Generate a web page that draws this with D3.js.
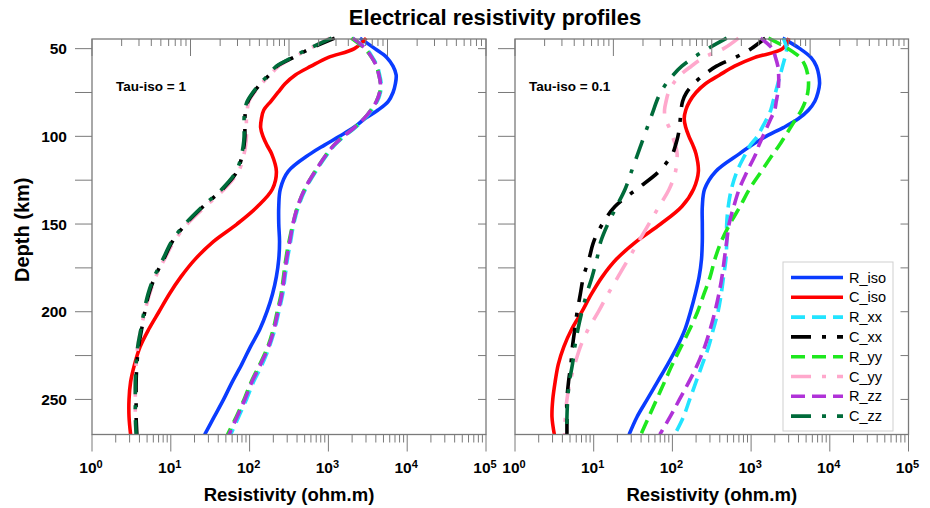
<!DOCTYPE html>
<html>
<head>
<meta charset="utf-8">
<script src="https://cdn.jsdelivr.net/npm/d3@7/dist/d3.min.js"></script>
<style>
  body { margin: 0; background: #fff; }
  svg { font-family: "Liberation Sans", Arial, sans-serif; }
</style>
</head>
<body>
<div id="chart"></div>
<script>
const depth = [44, 50, 55, 60, 65, 70, 75, 80, 85, 90, 95, 100, 105, 110, 120,
               130, 140, 150, 160, 170, 180, 190, 200, 210, 220, 230, 240, 250, 260, 270];

// all values are log10 of resistivity (ohm.m)
// --- Tau-iso = 1 ---
const L_R_iso = [3.40, 3.59, 3.74, 3.82, 3.86, 3.85, 3.82, 3.76, 3.63, 3.46, 3.32, 3.14, 2.95, 2.77, 2.49,
                 2.39, 2.37, 2.37, 2.38, 2.37, 2.34, 2.29, 2.22, 2.13, 2.01, 1.90, 1.78, 1.67, 1.55, 1.43];
const L_C_iso = [3.48, 3.33, 3.00, 2.78, 2.58, 2.45, 2.36, 2.27, 2.18, 2.15, 2.14, 2.17, 2.22, 2.28, 2.34,
                 2.29, 2.10, 1.84, 1.54, 1.31, 1.13, 0.98, 0.85, 0.72, 0.61, 0.54, 0.49, 0.47, 0.47, 0.49];
const L_R_xx = [3.30, 3.48, 3.56, 3.62, 3.65, 3.67, 3.66, 3.62, 3.55, 3.46, 3.34, 3.20, 3.08, 2.99, 2.84,
                2.71, 2.62, 2.56, 2.52, 2.48, 2.45, 2.42, 2.37, 2.32, 2.25, 2.16, 2.05, 1.96, 1.86, 1.76];
const L_C_xx = [3.08, 2.77, 2.56, 2.35, 2.25, 2.14, 2.05, 1.98, 1.95, 1.94, 1.94, 1.94, 1.93, 1.91, 1.84,
                1.66, 1.41, 1.19, 1.02, 0.91, 0.80, 0.72, 0.67, 0.63, 0.59, 0.57, 0.56, 0.56, 0.56, 0.57];
const L_R_yy = [3.29, 3.46, 3.55, 3.61, 3.64, 3.66, 3.65, 3.61, 3.54, 3.45, 3.33, 3.19, 3.07, 2.98, 2.83,
                2.70, 2.61, 2.55, 2.50, 2.46, 2.43, 2.40, 2.35, 2.30, 2.23, 2.13, 2.02, 1.93, 1.83, 1.72];
const L_C_yy = [3.02, 2.76, 2.56, 2.37, 2.26, 2.15, 2.06, 1.99, 1.97, 1.96, 1.96, 1.96, 1.95, 1.93, 1.86,
                1.68, 1.44, 1.21, 1.04, 0.92, 0.81, 0.73, 0.67, 0.62, 0.58, 0.56, 0.55, 0.55, 0.55, 0.56];
const L_R_zz = [3.31, 3.47, 3.55, 3.61, 3.64, 3.66, 3.65, 3.61, 3.54, 3.45, 3.33, 3.19, 3.07, 2.98, 2.83,
                2.70, 2.61, 2.55, 2.51, 2.47, 2.44, 2.41, 2.36, 2.31, 2.24, 2.14, 2.03, 1.94, 1.84, 1.74];
const L_C_zz = [3.04, 2.75, 2.54, 2.34, 2.24, 2.13, 2.04, 1.97, 1.94, 1.93, 1.93, 1.93, 1.92, 1.90, 1.83,
                1.65, 1.40, 1.18, 1.01, 0.90, 0.79, 0.71, 0.66, 0.62, 0.58, 0.56, 0.55, 0.55, 0.55, 0.56];

// --- Tau-iso = 0.1 ---
const R_R_iso = [3.40, 3.62, 3.76, 3.83, 3.86, 3.87, 3.85, 3.81, 3.73, 3.60, 3.41, 3.19, 3.01, 2.85, 2.55,
                 2.41, 2.38, 2.38, 2.38, 2.37, 2.34, 2.29, 2.23, 2.16, 2.06, 1.94, 1.81, 1.68, 1.55, 1.45];
const R_C_iso = [3.48, 3.40, 3.05, 2.79, 2.60, 2.42, 2.30, 2.22, 2.17, 2.15, 2.17, 2.21, 2.26, 2.30, 2.33,
                 2.27, 2.12, 1.85, 1.54, 1.29, 1.11, 0.97, 0.85, 0.72, 0.62, 0.55, 0.51, 0.48, 0.47, 0.50];
const R_R_xx = [3.41, 3.45, 3.43, 3.40, 3.37, 3.34, 3.31, 3.28, 3.25, 3.20, 3.14, 3.08, 2.99, 2.93, 2.82,
                2.75, 2.71, 2.69, 2.69, 2.68, 2.65, 2.62, 2.58, 2.52, 2.46, 2.38, 2.30, 2.22, 2.14, 2.03];
const R_C_xx = [3.18, 3.00, 2.80, 2.56, 2.40, 2.27, 2.18, 2.13, 2.11, 2.10, 2.09, 2.07, 2.04, 2.00, 1.83,
                1.55, 1.27, 1.11, 1.00, 0.94, 0.87, 0.83, 0.79, 0.76, 0.73, 0.71, 0.68, 0.66, 0.66, 0.66];
const R_R_yy = [3.22, 3.47, 3.62, 3.69, 3.72, 3.73, 3.72, 3.69, 3.64, 3.57, 3.50, 3.43, 3.36, 3.28, 3.13,
                2.98, 2.86, 2.73, 2.62, 2.54, 2.48, 2.40, 2.32, 2.22, 2.11, 2.00, 1.90, 1.80, 1.70, 1.60];
const R_C_yy = [2.84, 2.65, 2.40, 2.24, 2.10, 2.01, 1.95, 1.92, 1.90, 1.91, 1.96, 2.00, 2.04, 2.06, 2.04,
                1.96, 1.83, 1.70, 1.57, 1.44, 1.31, 1.18, 1.06, 0.93, 0.83, 0.76, 0.70, 0.66, 0.64, 0.63];
const R_R_zz = [3.12, 3.27, 3.31, 3.34, 3.35, 3.35, 3.34, 3.32, 3.30, 3.25, 3.20, 3.15, 3.10, 3.06, 2.95,
                2.85, 2.78, 2.72, 2.69, 2.66, 2.63, 2.59, 2.54, 2.48, 2.41, 2.32, 2.21, 2.09, 1.97, 1.84];
const R_C_zz = [2.69, 2.45, 2.27, 2.12, 2.01, 1.92, 1.85, 1.80, 1.76, 1.72, 1.68, 1.64, 1.60, 1.56, 1.48,
                1.40, 1.29, 1.18, 1.09, 1.04, 0.98, 0.91, 0.85, 0.80, 0.76, 0.73, 0.69, 0.67, 0.66, 0.66];

const seriesNames = ["R_iso", "C_iso", "R_xx", "C_xx", "R_yy", "C_yy", "R_zz", "C_zz"];
const depthTicks = [50, 100, 150, 200, 250];

// styling
const colors = {
  R_iso: "#0a3cff", C_iso: "#ff0000", R_xx: "#22e4ff", C_xx: "#000000",
  R_yy: "#1ee81e", C_yy: "#ffa8cc", R_zz: "#b032d8", C_zz: "#006b3a"
};
const DASH = "14,7", DASHDOT = "20,11,4,11";
const dashes = {
  R_iso: null, C_iso: null, R_xx: DASH, C_xx: DASHDOT,
  R_yy: DASH, C_yy: DASHDOT, R_zz: DASH, C_zz: DASHDOT
};
// order drawn (first at the bottom)
const drawOrder = ["R_iso", "C_iso", "C_yy", "C_xx", "C_zz", "R_xx", "R_yy", "R_zz"];

const W = 930, H = 508;
const TOP = 39, BOTTOM = 434.5;
const AXIS = "#7a7a7a";

const svg = d3.select("#chart").append("svg").attr("width", W).attr("height", H);

svg.append("text")
   .attr("x", 495).attr("y", 25)
   .attr("text-anchor", "middle")
   .style("font-size", "22px").style("font-weight", "bold")
   .text("Electrical resistivity profiles");

const y = d3.scaleLinear().domain([44.5, 270]).range([TOP, BOTTOM]);

const panels = [
  { x0: 92, x1: 486, tau: "Tau-iso = 1", yLabels: true, legend: false,
    data: { R_iso: L_R_iso, C_iso: L_C_iso, R_xx: L_R_xx, C_xx: L_C_xx,
            R_yy: L_R_yy, C_yy: L_C_yy, R_zz: L_R_zz, C_zz: L_C_zz } },
  { x0: 515, x1: 908.5, tau: "Tau-iso = 0.1", yLabels: false, legend: true,
    data: { R_iso: R_R_iso, C_iso: R_C_iso, R_xx: R_R_xx, C_xx: R_C_xx,
            R_yy: R_R_yy, C_yy: R_C_yy, R_zz: R_R_zz, C_zz: R_C_zz } }
];

const isMajor = v => Math.abs(Math.log10(v) - Math.round(Math.log10(v))) < 1e-6;

panels.forEach((p, pi) => {
  const x = d3.scaleLog().domain([1, 1e5]).range([p.x0, p.x1]);
  // the top axis of the original only spans four decades
  const xTop = d3.scaleLog().domain([1, 1e4]).range([p.x0, p.x1]);
  const g = svg.append("g");

  const clipId = "clip" + pi;
  svg.append("clipPath").attr("id", clipId).append("rect")
     .attr("x", p.x0).attr("y", TOP - 3).attr("width", p.x1 - p.x0).attr("height", BOTTOM - TOP + 3);

  // curves
  const line = d3.line()
    .x(d => x(Math.pow(10, d[1])))
    .y(d => y(d[0]))
    .curve(d3.curveCatmullRom.alpha(0.5));

  const curves = g.append("g").attr("clip-path", `url(#${clipId})`);
  drawOrder.forEach(name => {
    const pts = depth.map((dd, i) => [dd, p.data[name][i]]);
    curves.append("path")
      .attr("d", line(pts))
      .attr("fill", "none")
      .attr("stroke", colors[name])
      .attr("stroke-width", 3.6)
      .attr("stroke-linejoin", "round")
      .attr("stroke-dasharray", dashes[name]);
  });

  // frame
  g.append("rect")
   .attr("x", p.x0).attr("y", TOP)
   .attr("width", p.x1 - p.x0).attr("height", BOTTOM - TOP)
   .attr("fill", "none").attr("stroke", AXIS).attr("stroke-width", 1.3);

  // bottom ticks (outward)
  x.ticks().forEach(v => {
    const xx = x(v), len = isMajor(v) ? 17 : 8;
    g.append("line").attr("x1", xx).attr("x2", xx).attr("y1", BOTTOM).attr("y2", BOTTOM + len)
     .attr("stroke", AXIS).attr("stroke-width", 1);
  });
  // top ticks (inward)
  xTop.ticks().forEach(v => {
    const xx = xTop(v), len = isMajor(v) ? 17 : 7;
    g.append("line").attr("x1", xx).attr("x2", xx).attr("y1", TOP).attr("y2", TOP + len)
     .attr("stroke", AXIS).attr("stroke-width", 1);
  });
  // depth ticks every 25 km: outward left, inward right
  d3.range(50, 271, 25).forEach(d => {
    const yy = y(d);
    g.append("line").attr("x1", p.x0 - 17).attr("x2", p.x0).attr("y1", yy).attr("y2", yy)
     .attr("stroke", AXIS).attr("stroke-width", 1);
    g.append("line").attr("x1", p.x1 - 8).attr("x2", p.x1).attr("y1", yy).attr("y2", yy)
     .attr("stroke", AXIS).attr("stroke-width", 1);
  });

  // decade labels
  x.ticks().filter(isMajor).forEach(v => {
    const t = g.append("text")
      .attr("x", x(v) - 1).attr("y", 472.5)
      .attr("text-anchor", "middle")
      .style("font-size", "15.5px").style("font-weight", "bold");
    t.append("tspan").text("10");
    t.append("tspan").attr("dy", -4.5).style("font-size", "11px").text(Math.round(Math.log10(v)));
  });

  g.append("text")
   .attr("x", (p.x0 + p.x1) / 2).attr("y", 500.5)
   .attr("text-anchor", "middle")
   .style("font-size", "18.5px").style("font-weight", "bold")
   .text("Resistivity (ohm.m)");

  if (p.yLabels) {
    depthTicks.forEach(d => {
      g.append("text")
       .attr("x", p.x0 - 25).attr("y", y(d)).attr("dy", "0.36em")
       .attr("text-anchor", "end")
       .style("font-size", "15.5px").style("font-weight", "bold")
       .text(d);
    });
    g.append("text")
     .attr("transform", `translate(29, ${(TOP + BOTTOM) / 2 - 7}) rotate(-90)`)
     .attr("text-anchor", "middle")
     .style("font-size", "20px").style("font-weight", "bold")
     .text("Depth (km)");
  }

  g.append("text")
   .attr("x", p.x0 + (pi === 0 ? 24 : 14)).attr("y", 86).attr("dy", "0.35em")
   .style("font-size", "13.5px").style("font-weight", "bold")
   .text(p.tau);

  if (p.legend) {
    const lg = g.append("g");
    lg.append("rect")
      .attr("x", 783).attr("y", 262).attr("width", 110).attr("height", 169)
      .attr("fill", "#fff").attr("stroke", "#cfcfcf").attr("stroke-width", 1);
    seriesNames.forEach((name, i) => {
      const yy = 277.5 + i * 19.8;
      lg.append("line")
        .attr("x1", 791).attr("x2", 843).attr("y1", yy).attr("y2", yy)
        .attr("stroke", colors[name]).attr("stroke-width", 3.6)
        .attr("stroke-dasharray", dashes[name]);
      lg.append("text")
        .attr("x", 849).attr("y", yy).attr("dy", "0.35em")
        .style("font-size", "14.5px")
        .text(name);
    });
  }
});
</script>
</body>
</html>
